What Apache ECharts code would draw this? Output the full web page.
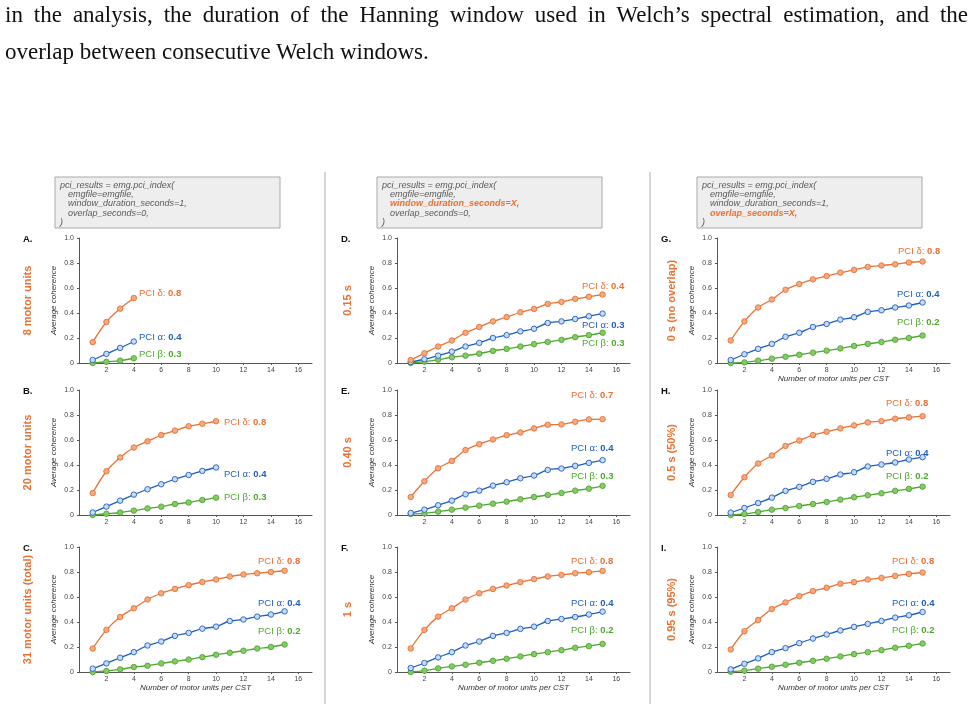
<!DOCTYPE html>
<html>
<head>
<meta charset="utf-8">
<script src="https://cdn.jsdelivr.net/npm/echarts@6/dist/echarts.min.js"></script>
<style>
  html, body { margin: 0; padding: 0; background: #fff; }
  #wrap { position: relative; width: 976px; height: 704px; overflow: hidden; }
  #chart { position: absolute; left: 0; top: 0; width: 976px; height: 704px; }
  .para { position: absolute; left: 5px; width: 963px; font-family: "Liberation Serif", "Times New Roman", serif;
          font-size: 23px; line-height: 24px; color: #111; white-space: nowrap; }
  .just { text-align: justify; text-align-last: justify; white-space: normal; }
</style>
</head>
<body>
<div id="wrap">
  <div id="chart"></div>
  <div class="para just" style="top:3px">in the analysis, the duration of the Hanning window used in Welch’s spectral estimation, and the</div>
  <div class="para" style="top:40px">overlap between consecutive Welch windows.</div>
</div>
<script>
// x ticks and y ticks
const xTicks = [2, 4, 6, 8, 10, 12, 14, 16];
const yTicks = [0, 0.2, 0.4, 0.6, 0.8, 1.0];

// A. 8 motor units
const aDelta = [0.167, 0.328, 0.435, 0.52];
const aAlpha = [0.024, 0.073, 0.121, 0.172];
const aBeta = [0.0, 0.01, 0.019, 0.038];
// B. 20 motor units
const bDelta = [0.176, 0.35, 0.46, 0.54, 0.59, 0.64, 0.675, 0.71, 0.73, 0.75];
const bAlpha = [0.02, 0.067, 0.115, 0.163, 0.206, 0.246, 0.286, 0.32, 0.353, 0.38];
const bBeta = [0.0, 0.01, 0.02, 0.035, 0.053, 0.067, 0.088, 0.1, 0.12, 0.139];
// C. 31 motor units (total)
const cDelta = [0.188, 0.337, 0.44, 0.51, 0.58, 0.63, 0.665, 0.695, 0.72, 0.74, 0.764, 0.78, 0.79, 0.8, 0.81];
const cAlpha = [0.027, 0.069, 0.114, 0.159, 0.212, 0.244, 0.289, 0.313, 0.347, 0.363, 0.408, 0.42, 0.443, 0.46, 0.485];
const cBeta = [0.0, 0.008, 0.021, 0.04, 0.05, 0.069, 0.085, 0.1, 0.119, 0.138, 0.154, 0.17, 0.188, 0.2, 0.22];
// D. 0.15 s
const dDelta = [0.024, 0.078, 0.132, 0.18, 0.242, 0.288, 0.333, 0.368, 0.406, 0.433, 0.473, 0.489, 0.513, 0.53, 0.548];
const dAlpha = [0.008, 0.03, 0.059, 0.091, 0.132, 0.161, 0.2, 0.223, 0.253, 0.274, 0.32, 0.333, 0.352, 0.374, 0.395];
const dBeta = [0.0, 0.011, 0.027, 0.046, 0.059, 0.075, 0.097, 0.113, 0.132, 0.151, 0.169, 0.185, 0.207, 0.223, 0.242];
// E. 0.40 s
const eDelta = [0.144, 0.27, 0.374, 0.433, 0.52, 0.567, 0.604, 0.639, 0.66, 0.693, 0.722, 0.725, 0.746, 0.765, 0.767];
const eAlpha = [0.016, 0.043, 0.078, 0.115, 0.166, 0.195, 0.235, 0.262, 0.294, 0.316, 0.361, 0.372, 0.393, 0.417, 0.439];
const eBeta = [0.008, 0.013, 0.027, 0.043, 0.059, 0.075, 0.091, 0.107, 0.126, 0.144, 0.16, 0.176, 0.195, 0.211, 0.233];
// F. 1 s
const fDelta = [0.188, 0.337, 0.443, 0.51, 0.58, 0.63, 0.665, 0.692, 0.719, 0.743, 0.764, 0.777, 0.79, 0.798, 0.809];
const fAlpha = [0.032, 0.072, 0.117, 0.159, 0.212, 0.244, 0.289, 0.313, 0.345, 0.363, 0.408, 0.424, 0.44, 0.46, 0.483];
const fBeta = [0.0, 0.011, 0.029, 0.045, 0.058, 0.074, 0.09, 0.106, 0.125, 0.143, 0.159, 0.175, 0.194, 0.207, 0.225];
// G. 0 s (no overlap)
const gDelta = [0.18, 0.333, 0.444, 0.508, 0.586, 0.632, 0.669, 0.696, 0.723, 0.745, 0.769, 0.78, 0.79, 0.804, 0.812];
const gAlpha = [0.024, 0.07, 0.113, 0.153, 0.21, 0.242, 0.288, 0.312, 0.347, 0.366, 0.409, 0.422, 0.444, 0.46, 0.484];
const gBeta = [0.0, 0.005, 0.019, 0.035, 0.05, 0.066, 0.083, 0.099, 0.117, 0.136, 0.153, 0.168, 0.186, 0.2, 0.22];
// H. 0.5 s (50%)
const hDelta = [0.16, 0.302, 0.412, 0.476, 0.553, 0.596, 0.639, 0.666, 0.693, 0.717, 0.741, 0.751, 0.77, 0.781, 0.791];
const hAlpha = [0.019, 0.056, 0.096, 0.139, 0.193, 0.225, 0.265, 0.289, 0.324, 0.342, 0.388, 0.404, 0.42, 0.444, 0.463];
const hBeta = [0.0, 0.008, 0.024, 0.043, 0.056, 0.072, 0.088, 0.104, 0.123, 0.142, 0.158, 0.174, 0.193, 0.209, 0.227];
// I. 0.95 s (95%)
const iDelta = [0.18, 0.326, 0.416, 0.504, 0.557, 0.607, 0.647, 0.674, 0.706, 0.719, 0.74, 0.753, 0.769, 0.785, 0.796];
const iAlpha = [0.021, 0.066, 0.109, 0.159, 0.191, 0.231, 0.268, 0.3, 0.332, 0.361, 0.385, 0.408, 0.435, 0.454, 0.48];
const iBeta = [0.003, 0.011, 0.027, 0.042, 0.058, 0.074, 0.09, 0.106, 0.125, 0.143, 0.159, 0.175, 0.194, 0.21, 0.228];

const panelLetters = ["A.", "B.", "C.", "D.", "E.", "F.", "G.", "H.", "I."];
const rowNames = ["8 motor units", "20 motor units", "31 motor units (total)",
  "0.15 s", "0.40 s", "1 s", "0 s (no overlap)", "0.5 s (50%)", "0.95 s (95%)"];
const pciValues = [
  ["0.8", "0.4", "0.3"], ["0.8", "0.4", "0.3"], ["0.8", "0.4", "0.2"],
  ["0.4", "0.3", "0.3"], ["0.7", "0.4", "0.3"], ["0.8", "0.4", "0.2"],
  ["0.8", "0.4", "0.2"], ["0.8", "0.4", "0.2"], ["0.8", "0.4", "0.2"]
];
const bandNames = ["PCI δ: ", "PCI α: ", "PCI β: "];

const seriesData = [
  [aDelta, aAlpha, aBeta], [bDelta, bAlpha, bBeta], [cDelta, cAlpha, cBeta],
  [dDelta, dAlpha, dBeta], [eDelta, eAlpha, eBeta], [fDelta, fAlpha, fBeta],
  [gDelta, gAlpha, gBeta], [hDelta, hAlpha, hBeta], [iDelta, iAlpha, iBeta]
];

// layout
const colLeft = [79, 397, 717];
const rowTop = [238, 390, 547];
const gridW = 233, gridH = 125;

// label anchors (left, middle) for delta / alpha / beta
const labelPos = [
  [[139, 293], [139, 337], [139, 354]],
  [[224, 422], [224, 474], [224, 497]],
  [[258, 561], [258, 603], [258, 631]],
  [[582, 286], [582, 325], [582, 343]],
  [[571, 395], [571, 448], [571, 476]],
  [[571, 561], [571, 603], [571, 630]],
  [[898, 251], [897, 294], [897, 322]],
  [[886, 403], [886, 453], [886, 476]],
  [[892, 561], [892, 603], [892, 630]]
];
const rowLabelX = [28, 348, 672];

const lineColors = ["#E97132", "#1F5FBF", "#4EA72E"];
const fillColors = ["#F4A982", "#C9DBF4", "#86C86A"];
const sansFont = "'Liberation Sans', Arial, sans-serif";

const chart = echarts.init(document.getElementById("chart"));

const grid = [], xAxis = [], yAxis = [], series = [], graphic = [];

for (let p = 0; p < 9; p++) {
  const col = Math.floor(p / 3), row = p % 3;
  grid.push({ left: colLeft[col], top: rowTop[row], width: gridW, height: gridH });
  const showXName = row === 2 || p === 6;
  xAxis.push({
    gridIndex: p, type: "value", min: 0, max: 17,
    name: showXName ? "Number of motor units per CST" : "",
    nameLocation: "middle", nameGap: 12,
    nameTextStyle: { fontStyle: "italic", fontSize: 8, color: "#333", fontFamily: sansFont },
    axisLine: { lineStyle: { color: "#555", width: 1 } },
    axisTick: { show: true, length: 2, customValues: xTicks, lineStyle: { color: "#555" } },
    axisLabel: { customValues: xTicks, fontSize: 7, color: "#444", margin: 4, fontFamily: sansFont },
    splitLine: { show: false }
  });
  yAxis.push({
    gridIndex: p, type: "value", min: 0, max: 1, interval: 0.2,
    name: "Average coherence", nameLocation: "middle", nameGap: 21,
    nameTextStyle: { fontStyle: "italic", fontSize: 8, color: "#333", fontFamily: sansFont },
    axisLine: { show: true, lineStyle: { color: "#555", width: 1 } },
    axisTick: { show: true, length: 2, lineStyle: { color: "#555" } },
    axisLabel: {
      fontSize: 7, color: "#444", margin: 5, fontFamily: sansFont,
      formatter: v => (v === 0 ? "0" : v.toFixed(1))
    },
    splitLine: { show: false }
  });
  // draw beta first so delta is on top
  for (let b = 2; b >= 0; b--) {
    series.push({
      type: "line", xAxisIndex: p, yAxisIndex: p,
      data: seriesData[p][b].map((v, i) => [i + 1, v]),
      smooth: 0.35, symbol: "circle", symbolSize: 5.5, showSymbol: true,
      lineStyle: { color: lineColors[b], width: 1.3 },
      itemStyle: { color: fillColors[b], borderColor: lineColors[b], borderWidth: 0.9 },
      emphasis: { disabled: true }, animation: false
    });
    graphic.push({
      type: "text", x: labelPos[p][b][0], y: labelPos[p][b][1],
      style: {
        text: "{n|" + bandNames[b] + "}{v|" + pciValues[p][b] + "}",
        verticalAlign: "middle", align: "left",
        rich: {
          n: { fontSize: 9.5, fill: lineColors[b], fontFamily: sansFont },
          v: { fontSize: 9.5, fill: lineColors[b], fontWeight: "bold", fontFamily: sansFont }
        }
      }
    });
  }
  // panel letter
  graphic.push({
    type: "text", x: colLeft[col] - 56, y: rowTop[row] + 1,
    style: { text: panelLetters[p], fontSize: 9.5, fontWeight: "bold", fill: "#111",
             fontFamily: sansFont, verticalAlign: "middle" }
  });
  // row / condition label
  graphic.push({
    type: "text", x: rowLabelX[col], y: rowTop[row] + gridH / 2, rotation: Math.PI / 2,
    style: { text: rowNames[p], fontSize: 11, fontWeight: "bold", fill: "#E97132",
             fontFamily: sansFont, align: "center", verticalAlign: "middle" }
  });
}

// code boxes
const boxLeft = [55, 377, 697];
const codeLines = [
  ["pci_results = emg.pci_index(", "emgfile=emgfile,", "window_duration_seconds=1,", "overlap_seconds=0,", ")"],
  ["pci_results = emg.pci_index(", "emgfile=emgfile,", "window_duration_seconds=X,", "overlap_seconds=0,", ")"],
  ["pci_results = emg.pci_index(", "emgfile=emgfile,", "window_duration_seconds=1,", "overlap_seconds=X,", ")"]
];
const highlightLine = [-1, 2, 3];
for (let c = 0; c < 3; c++) {
  graphic.push({
    type: "rect", shape: { x: boxLeft[c], y: 177, width: 225, height: 51 },
    style: { fill: "#EEEEEE", stroke: "#A9A9A9", lineWidth: 1 }
  });
  codeLines[c].forEach((t, i) => {
    const hi = i === highlightLine[c];
    graphic.push({
      type: "text", x: boxLeft[c] + (i === 0 || i === 4 ? 5 : 13), y: 185 + i * 9.4,
      style: { text: t, fontSize: 9, fontStyle: "italic", fontWeight: hi ? "bold" : "normal",
               fill: hi ? "#E97132" : "#5A5A5A", fontFamily: sansFont, verticalAlign: "middle" }
    });
  });
}

// column separators
[325, 650].forEach(x => {
  graphic.push({
    type: "line", shape: { x1: x, y1: 172, x2: x, y2: 704 },
    style: { stroke: "#C8C8C8", lineWidth: 1.5 }
  });
});

chart.setOption({
  animation: false,
  grid, xAxis, yAxis, series, graphic
});
</script>
</body>
</html>
